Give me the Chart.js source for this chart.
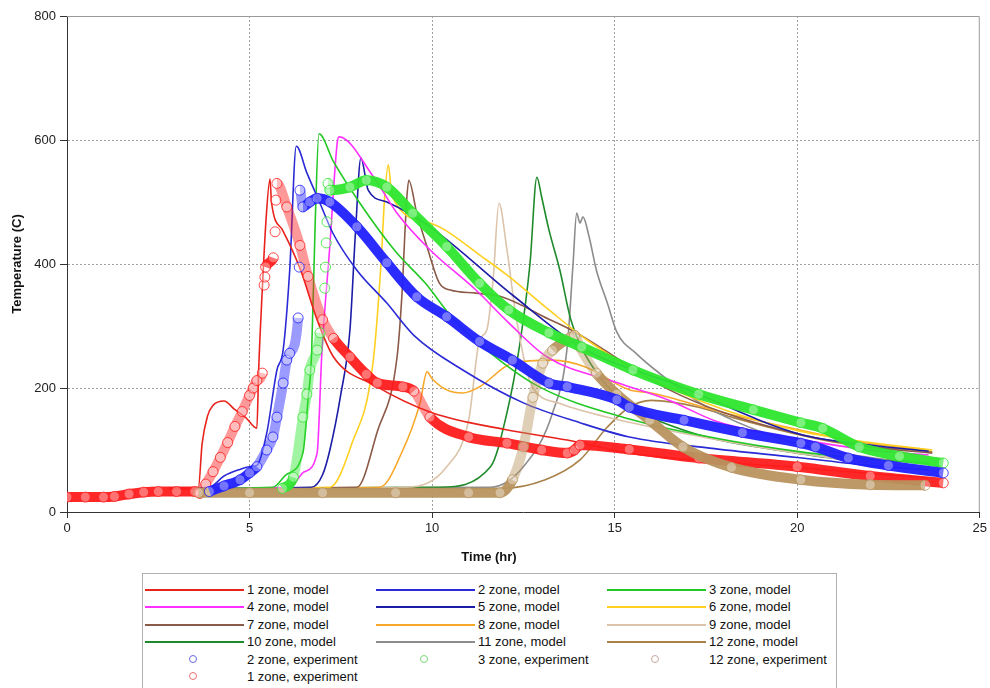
<!DOCTYPE html>
<html>
<head>
<meta charset="utf-8">
<script src="https://cdn.jsdelivr.net/npm/chart.js@4/dist/chart.umd.min.js"></script>
<style>
  body { margin: 0; background: #fff; font-family: Arial, "Liberation Sans", sans-serif; }
  #wrap { position: absolute; left: 0; top: 0; width: 990px; height: 565px; }
  #legend { position: absolute; left: 142px; top: 573px; width: 695px; height: 118px;
            border: 1px solid #b0b0b0; box-sizing: border-box; padding-top: 7px; }
  .row { position: relative; height: 17.4px; }
  .item { position: absolute; top: 0; height: 17.4px; width: 231px; }
  .sample { position: absolute; left: 2px; top: 8px; width: 99px; height: 0; border-top: 2px solid; }
  .dot { position: absolute; left: 46px; top: 4px; width: 8px; height: 8px; border-radius: 50%;
         border: 1px solid; box-sizing: border-box; }
  .txt { position: absolute; left: 104px; top: 1px; font-size: 13px; color: #111; white-space: nowrap; }
</style>
</head>
<body>
<div id="wrap"><canvas id="chart"></canvas></div>
<div id="legend"></div>
<script>
const ctx = document.getElementById("chart").getContext("2d");

// axis ticks
const xTicks = [0, 5, 10, 15, 20, 25];
const yTicks = [0, 200, 400, 600, 800];

// model curves (time in hr, temperature in C)
const zone1ModelTime = [2.8, 3.6, 3.7, 3.85, 4.0, 4.3, 4.6, 4.9, 5.2, 5.25, 5.35, 5.45, 5.56, 5.6, 5.9, 6.4, 6.85, 7.3, 8.4, 10.0, 12.0, 13.7, 15.4, 17.5, 20.0, 22.0, 23.6];
const zone1ModelTemp = [38, 40, 110, 155, 172, 179, 165, 152, 135, 230, 360, 470, 537, 500, 455, 390, 310, 250, 205, 160, 133, 116, 95, 82, 72, 62, 55];

const zone2ModelTime = [2.8, 3.9, 4.3, 4.7, 5.0, 5.2, 5.47, 5.75, 5.92, 6.1, 6.28, 6.57, 6.93, 7.28, 7.94, 8.76, 9.5, 10.84, 12.5, 14.05, 15.4, 17.6, 20.0, 22.0, 23.6];
const zone2ModelTemp = [38, 40, 58, 68, 73, 75, 127, 229, 261, 390, 590, 547, 498, 450, 390, 337, 285, 229, 176, 144, 121, 103, 88, 75, 68];

const zone3ModelTime = [2.8, 5.64, 6.0, 6.46, 6.6, 6.7, 6.8, 6.9, 7.3, 8.0, 9.0, 9.8, 10.6, 11.4, 12.9, 15.4, 17.6, 20.1, 22.0, 23.6];
const zone3ModelTemp = [38, 40, 60, 95, 180, 256, 471, 610, 565, 500, 420, 370, 310, 266, 203, 150, 121, 97, 85, 78];

const zone4ModelTime = [2.8, 6.1, 6.5, 6.85, 6.98, 7.2, 7.4, 7.45, 8.4, 9.04, 9.94, 11.2, 12.1, 13.15, 15.1, 16.5, 17.8, 20.0, 22.0, 23.6];
const zone4ModelTemp = [38, 40, 65, 95, 256, 430, 595, 605, 540, 482, 423, 358, 305, 250, 208, 180, 146, 118, 100, 92];

const zone5ModelTime = [2.8, 6.7, 7.0, 7.2, 7.5, 7.75, 7.9, 8.05, 8.25, 8.76, 9.94, 12.2, 14.1, 16.7, 20.1, 22.0, 23.6];
const zone5ModelTemp = [38, 40, 60, 100, 190, 294, 450, 571, 519, 500, 460, 350, 265, 205, 125, 108, 98];

const zone6ModelTime = [2.8, 7.2, 7.8, 8.38, 8.6, 8.7, 8.8, 8.9, 9.94, 11.5, 12.1, 13.2, 14.3, 16.0, 18.0, 20.1, 22.0, 23.7];
const zone6ModelTemp = [38, 40, 110, 240, 400, 508, 560, 510, 466, 406, 380, 326, 275, 215, 165, 130, 112, 100];

const zone7ModelTime = [2.8, 7.94, 8.5, 9.04, 9.17, 9.3, 9.36, 9.58, 9.86, 10.2, 10.5, 11.2, 11.9, 13.2, 13.8, 16.5, 18.0, 20.1, 22.0, 23.7];
const zone7ModelTemp = [38, 40, 130, 250, 347, 500, 535, 482, 428, 369, 358, 353, 347, 311, 294, 197, 160, 125, 105, 95];

const zone8ModelTime = [2.8, 8.57, 9.2, 9.67, 9.86, 10.0, 10.4, 10.84, 11.3, 12.2, 13.3, 14.2, 15.4, 16.0, 18.0, 20.1, 22.0, 23.6];
const zone8ModelTemp = [38, 40, 100, 176, 226, 215, 197, 192, 202, 240, 245, 234, 197, 192, 160, 132, 110, 100];

const zone9ModelTime = [2.8, 9.3, 10.4, 11.0, 11.3, 11.5, 11.67, 11.83, 12.05, 12.3, 12.7, 13.5, 15.0, 17.5, 20.0, 22.0, 23.6];
const zone9ModelTemp = [38, 40, 73, 148, 277, 294, 374, 498, 423, 315, 208, 175, 150, 120, 95, 80, 72];

const zone10ModelTime = [2.8, 10.2, 11.6, 12.05, 12.4, 12.68, 12.87, 13.0, 13.2, 13.5, 13.8, 14.5, 15.5, 17.0, 20.0, 22.0, 23.6];
const zone10ModelTemp = [38, 40, 73, 160, 270, 400, 540, 508, 455, 390, 310, 225, 170, 130, 95, 80, 72];

const zone11ModelTime = [2.8, 11.6, 12.5, 13.3, 13.7, 13.86, 13.96, 14.05, 14.13, 14.3, 14.5, 14.8, 15.06, 15.6, 16.2, 17.5, 20.0, 22.0, 23.6];
const zone11ModelTemp = [38, 40, 73, 160, 266, 400, 482, 466, 476, 444, 390, 337, 290, 255, 225, 170, 110, 88, 78];

const zone12ModelTime = [2.8, 11.9, 13.1, 14.05, 14.8, 15.4, 16.0, 17.3, 18.2, 20.1, 21.2, 23.7];
const zone12ModelTemp = [38, 38, 52, 84, 137, 169, 180, 169, 153, 124, 111, 97];

// experiment readings
const zone2ExpTime = [3.9, 4.3, 4.74, 5.0, 5.2, 5.47, 5.64, 5.75, 5.92, 6.02, 6.1, 6.33, 6.36, 6.38, 6.46, 6.65, 6.85, 7.2, 7.94, 8.76, 9.58, 10.4, 11.3, 12.2, 13.2, 13.7, 15.06, 15.4, 16.9, 18.5, 20.1, 20.5, 21.4, 22.5, 24.0];
const zone2ExpTemp = [33, 42, 52, 63, 73, 100, 121, 153, 208, 245, 256, 313, 395, 519, 492, 500, 506, 500, 460, 402, 347, 315, 275, 245, 208, 202, 181, 169, 148, 128, 111, 105, 87, 75, 63];

const zone3ExpTime = [5.9, 6.2, 6.46, 6.57, 6.65, 6.85, 6.93, 7.06, 7.08, 7.1, 7.12, 7.15, 7.2, 7.75, 8.2, 8.76, 9.47, 10.4, 11.3, 12.1, 13.2, 14.1, 15.5, 17.3, 18.8, 20.1, 20.7, 21.7, 22.8, 24.0];
const zone3ExpTemp = [38, 56, 153, 190, 229, 261, 289, 361, 395, 434, 468, 530, 519, 524, 535, 524, 482, 428, 369, 326, 289, 266, 229, 190, 165, 144, 135, 105, 90, 79];

const zone12ExpTime = [3.6, 5.0, 7.0, 9.0, 11.0, 11.86, 12.2, 12.5, 12.76, 13.03, 13.3, 13.77, 13.9, 14.05, 14.5, 15.06, 15.96, 16.87, 18.2, 20.1, 22.0, 23.5];
const zone12ExpTemp = [31, 31, 31, 31, 31, 31, 52, 105, 185, 240, 261, 281, 285, 266, 224, 190, 148, 105, 72, 52, 44, 43];

const zone1ExpTime = [0, 0.5, 1.0, 1.3, 1.7, 2.1, 2.5, 3.0, 3.5, 3.64, 3.8, 4.0, 4.2, 4.4, 4.6, 4.8, 5.0, 5.1, 5.2, 5.35, 5.4, 5.42, 5.44, 5.65, 5.7, 5.72, 5.75, 6.02, 6.38, 6.6, 7.0, 7.3, 7.75, 8.2, 8.5, 9.2, 9.5, 9.94, 11.0, 12.05, 13.0, 13.7, 13.9, 14.05, 15.4, 17.3, 20.0, 22.0, 24.0];
const zone1ExpTemp = [24, 24, 24, 25, 29, 32, 33, 33, 33, 30, 45, 65, 88, 112, 138, 162, 188, 200, 212, 224, 366, 379, 395, 410, 452, 503, 530, 492, 430, 380, 310, 280, 250, 222, 208, 202, 195, 153, 121, 111, 100, 95, 100, 108, 101, 87, 73, 58, 47];

const series = [
  { label: "1 zone, model", time: zone1ModelTime, temp: zone1ModelTemp, color: "#e8231c" },
  { label: "2 zone, model", time: zone2ModelTime, temp: zone2ModelTemp, color: "#2a2ad6" },
  { label: "3 zone, model", time: zone3ModelTime, temp: zone3ModelTemp, color: "#24c824" },
  { label: "4 zone, model", time: zone4ModelTime, temp: zone4ModelTemp, color: "#ff30ff" },
  { label: "5 zone, model", time: zone5ModelTime, temp: zone5ModelTemp, color: "#1c1ca8" },
  { label: "6 zone, model", time: zone6ModelTime, temp: zone6ModelTemp, color: "#ffd020" },
  { label: "7 zone, model", time: zone7ModelTime, temp: zone7ModelTemp, color: "#8c5a48" },
  { label: "8 zone, model", time: zone8ModelTime, temp: zone8ModelTemp, color: "#f8a828" },
  { label: "9 zone, model", time: zone9ModelTime, temp: zone9ModelTemp, color: "#dcc4aa" },
  { label: "10 zone, model", time: zone10ModelTime, temp: zone10ModelTemp, color: "#1e8a2a" },
  { label: "11 zone, model", time: zone11ModelTime, temp: zone11ModelTemp, color: "#8c8c8c" },
  { label: "12 zone, model", time: zone12ModelTime, temp: zone12ModelTemp, color: "#a88048" },
  { label: "2 zone, experiment", time: zone2ExpTime, temp: zone2ExpTemp, rgb: [32, 32, 255], legendColor: "#6a6ae8", exp: true },
  { label: "3 zone, experiment", time: zone3ExpTime, temp: zone3ExpTemp, rgb: [46, 230, 46], legendColor: "#7ad87a", exp: true },
  { label: "12 zone, experiment", time: zone12ExpTime, temp: zone12ExpTemp, rgb: [184, 148, 94], legendColor: "#c8a8a0", exp: true },
  { label: "1 zone, experiment", time: zone1ExpTime, temp: zone1ExpTemp, rgb: [255, 28, 28], legendColor: "#e87070", exp: true }
];

const rgba = (c, a) => `rgba(${c[0]},${c[1]},${c[2]},${a})`;

// experiment bands: dense circles look solid where flat, pale where steep, loose where very steep
const bandColor = (s) => (c) => {
  const dx = Math.abs(c.p1.x - c.p0.x), dy = Math.abs(c.p1.y - c.p0.y);
  if (dy > 8 * dx + 2) return "transparent";
  if (dy > 1.3 * dx) return rgba(s.rgb, 0.45);
  return undefined;
};

const datasets = series.map(s => {
  const data = s.time.map((t, i) => ({ x: t, y: s.temp[i] }));
  if (!s.exp) {
    return {
      label: s.label, data, borderColor: s.color, borderWidth: 1.6,
      pointRadius: 0, cubicInterpolationMode: "monotone", order: 2
    };
  }
  return {
    label: s.label, data, borderColor: rgba(s.rgb, 0.95), borderWidth: 10,
    pointRadius: 5, pointBorderWidth: 1, pointBorderColor: rgba(s.rgb, 0.8),
    pointBackgroundColor: "rgba(255,255,255,0.35)",
    cubicInterpolationMode: "monotone", order: 1,
    segment: { borderColor: bandColor(s) }
  };
});

const framePlugin = {
  id: "frame",
  beforeDatasetsDraw(chart) {
    const { ctx, chartArea: a } = chart;
    ctx.save();
    ctx.strokeStyle = "#9a9a9a";
    ctx.lineWidth = 1;
    ctx.beginPath();
    ctx.moveTo(a.left, a.top + 0.5);
    ctx.lineTo(a.right - 0.5, a.top + 0.5);
    ctx.lineTo(a.right - 0.5, a.bottom);
    ctx.stroke();
    ctx.restore();
  },
  afterDraw(chart) {
    const { ctx } = chart;
    ctx.save();
    ctx.font = "bold 13px Arial, 'Liberation Sans', sans-serif";
    ctx.fillStyle = "#111";
    ctx.textAlign = "center";
    ctx.textBaseline = "middle";
    ctx.fillText("Time (hr)", 489, 557);
    ctx.restore();
  }
};

const edgeGrid = (edges) => c => (c.tick && edges.includes(c.tick.value)) ? "rgba(0,0,0,0)" : "#a0a0a0";

new Chart(ctx, {
  type: "line",
  data: { datasets },
  plugins: [framePlugin],
  options: {
    responsive: true,
    maintainAspectRatio: false,
    animation: false,
    layout: { padding: { top: 16, right: 10, left: 0, bottom: 0 } },
    plugins: { legend: { display: false }, tooltip: { enabled: false } },
    scales: {
      x: {
        type: "linear", min: 0, max: 25,
        afterBuildTicks: s => { s.ticks = xTicks.map(v => ({ value: v })); },
        afterFit: s => { s.height = 53; },
        grid: { color: edgeGrid([0, 25]), tickColor: "#333", tickLength: 6, tickBorderDash: [] },
        border: { color: "#333", width: 1, dash: [2, 2] },
        ticks: { color: "#222", font: { size: 13, family: "Arial, 'Liberation Sans', sans-serif" }, padding: 3, maxRotation: 0 }
      },
      y: {
        min: 0, max: 800,
        afterBuildTicks: s => { s.ticks = yTicks.map(v => ({ value: v })); },
        afterFit: s => { s.width = 67; },
        grid: { color: edgeGrid([0, 800]), tickColor: "#333", tickLength: 7, tickBorderDash: [] },
        border: { color: "#333", width: 1, dash: [2, 2] },
        ticks: { color: "#222", font: { size: 13, family: "Arial, 'Liberation Sans', sans-serif" }, padding: 4 },
        title: { display: true, text: "Temperature (C)", color: "#111",
                 font: { size: 13, weight: "bold", family: "Arial, 'Liberation Sans', sans-serif" },
                 padding: { top: 10, bottom: 0 } }
      }
    }
  }
});

// legend laid out in three aligned columns like the original
const legend = document.getElementById("legend");
for (let r = 0; r < Math.ceil(series.length / 3); r++) {
  const row = document.createElement("div");
  row.className = "row";
  series.slice(r * 3, r * 3 + 3).forEach((s, c) => {
    const item = document.createElement("div");
    item.className = "item";
    item.style.left = (c * 231) + "px";
    const mark = document.createElement("span");
    if (s.exp) {
      mark.className = "dot";
      mark.style.borderColor = s.legendColor;
    } else {
      mark.className = "sample";
      mark.style.borderTopColor = s.color;
    }
    const txt = document.createElement("span");
    txt.className = "txt";
    txt.textContent = s.label;
    item.appendChild(mark);
    item.appendChild(txt);
    row.appendChild(item);
  });
  legend.appendChild(row);
}
</script>
</body>
</html>
